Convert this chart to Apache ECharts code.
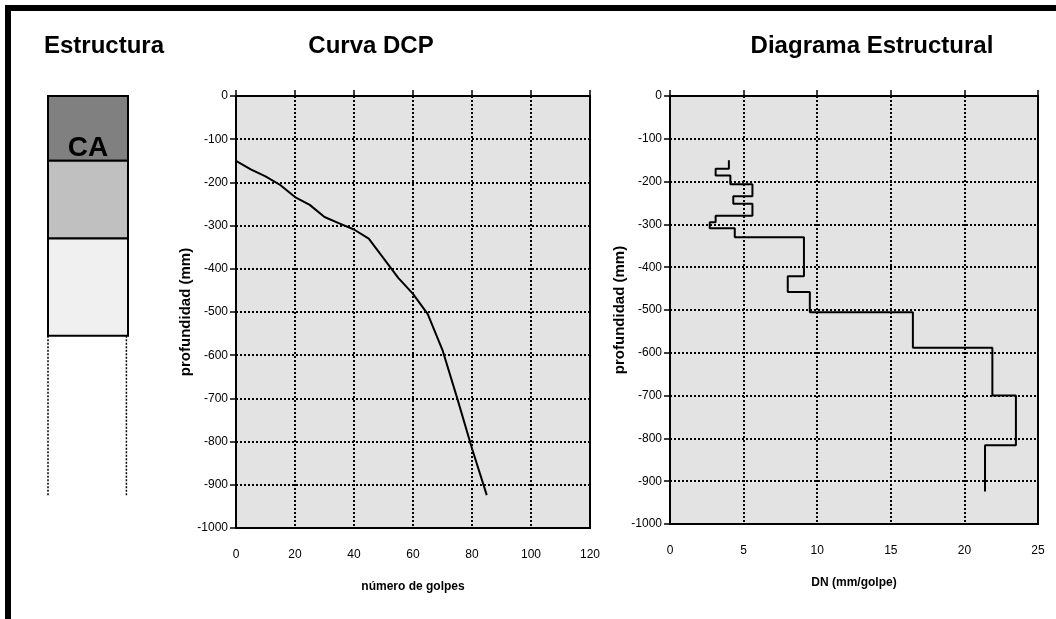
<!DOCTYPE html>
<html>
<head>
<meta charset="utf-8">
<script src="https://cdn.jsdelivr.net/npm/echarts@6/dist/echarts.min.js"></script>
<style>
  html, body { margin: 0; padding: 0; background: #fff; }
  #chart { width: 1056px; height: 619px; }
</style>
</head>
<body>
<div id="chart"></div>
<script>
// DCP test readings: cumulative blows and penetration depth (mm)
const blows = [0, 5, 10, 15, 20, 25, 30, 35, 40, 45, 55, 60, 65, 70, 75, 80, 85];
const depths = [150, 170, 186, 206, 234, 252, 280, 295, 309, 330, 421, 458, 505, 588, 700, 816, 924];
// DN (mm/golpe) for each depth interval
const dnValues = [4.0, 3.1, 4.1, 5.6, 4.3, 5.6, 3.1, 2.7, 4.4, 9.1, 8.0, 9.5, 16.5, 21.9, 23.5, 21.4];

// pavement structure layers (mm)
const layerTops = [0, 150, 330];
const layerBottoms = [150, 330, 555];
const layerNames = ['CA', '', ''];
const layerFills = ['#808080', '#c0c0c0', '#f0f0f0'];

// axis ticks
const depthTicks = [0, -100, -200, -300, -400, -500, -600, -700, -800, -900, -1000];
const blowTicks = [0, 20, 40, 60, 80, 100, 120];
const dnTicks = [0, 5, 10, 15, 20, 25];

const FONT = 'Liberation Sans, Arial, sans-serif';

const dcpData = blows.map((b, i) => [b, -depths[i]]);
const dnData = [];
dnValues.forEach((v, i) => {
  dnData.push([v, -depths[i]]);
  dnData.push([v, -depths[i + 1]]);
});
const layerData = layerTops.map((t, i) => [-t, -layerBottoms[i], i]);
const testEnd = depths[depths.length - 1];

const dotted = { color: '#000', width: 2, type: [2, 2] };
const plain = v => String(v);

function bottomAxis(gridIndex, ticks, name) {
  return {
    type: 'value', gridIndex, position: 'bottom',
    min: ticks[0], max: ticks[ticks.length - 1], interval: ticks[1] - ticks[0],
    axisLine: { show: false }, axisTick: { show: false },
    axisLabel: { color: '#000', fontSize: 12, fontFamily: FONT, margin: 21, formatter: plain },
    splitLine: { show: true, lineStyle: dotted },
    name, nameLocation: 'middle', nameGap: 53,
    nameTextStyle: { color: '#000', fontSize: 12, fontWeight: 'bold', fontFamily: FONT }
  };
}
function topAxis(gridIndex, ticks) {
  return {
    type: 'value', gridIndex, position: 'top',
    min: ticks[0], max: ticks[ticks.length - 1], interval: ticks[1] - ticks[0],
    axisLine: { show: true, onZero: false, lineStyle: { color: '#000', width: 2 } },
    axisTick: { show: true, length: 6, lineStyle: { color: '#000', width: 1.5 } },
    axisLabel: { show: false }, splitLine: { show: false }
  };
}
function depthAxis(gridIndex) {
  return {
    type: 'value', gridIndex,
    min: depthTicks[depthTicks.length - 1], max: depthTicks[0], interval: depthTicks[0] - depthTicks[1],
    axisLine: { show: true, onZero: false, lineStyle: { color: '#000', width: 2 } },
    axisTick: { show: true, length: 6, lineStyle: { color: '#000', width: 1.5 } },
    axisLabel: { color: '#000', fontSize: 12, fontFamily: FONT, margin: 8, formatter: plain },
    splitLine: { show: true, lineStyle: dotted },
    name: 'profundidad (mm)', nameLocation: 'middle', nameRotate: 90, nameGap: 35,
    nameTextStyle: { color: '#000', fontSize: 15, fontWeight: 'bold', fontFamily: FONT }
  };
}

const chart = echarts.init(document.getElementById('chart'));
chart.setOption({
  animation: false,
  backgroundColor: '#fff',
  graphic: [
    { type: 'rect', shape: { x: 8, y: 8, width: 1200, height: 800 },
      style: { fill: 'none', stroke: '#000', lineWidth: 6 }, z: 100 },
    { type: 'text', x: 104, y: 46, style: { text: 'Estructura', align: 'center', verticalAlign: 'middle',
      font: 'bold 24px ' + FONT, fill: '#000' } },
    { type: 'text', x: 371, y: 46, style: { text: 'Curva DCP', align: 'center', verticalAlign: 'middle',
      font: 'bold 24px ' + FONT, fill: '#000' } },
    { type: 'text', x: 872, y: 46, style: { text: 'Diagrama Estructural', align: 'center', verticalAlign: 'middle',
      font: 'bold 24px ' + FONT, fill: '#000' } }
  ],
  grid: [
    { left: 236, top: 96, width: 354, height: 432, show: true,
      backgroundColor: '#e3e3e3', borderColor: '#000', borderWidth: 2 },
    { left: 670, top: 96, width: 368, height: 428, show: true,
      backgroundColor: '#e3e3e3', borderColor: '#000', borderWidth: 2 },
    { left: 48, top: 96, width: 80, height: 432 }
  ],
  xAxis: [
    bottomAxis(0, blowTicks, 'número de golpes'),
    topAxis(0, blowTicks),
    bottomAxis(1, dnTicks, 'DN (mm/golpe)'),
    topAxis(1, dnTicks),
    { type: 'value', gridIndex: 2, min: 0, max: 1, show: false }
  ],
  yAxis: [
    depthAxis(0),
    depthAxis(1),
    { type: 'value', gridIndex: 2, min: -1000, max: 0, show: false }
  ],
  series: [
    {
      name: 'Curva DCP', type: 'line', xAxisIndex: 0, yAxisIndex: 0,
      data: dcpData, showSymbol: false,
      lineStyle: { color: '#000', width: 2 }
    },
    {
      name: 'DN', type: 'line', xAxisIndex: 2, yAxisIndex: 1,
      data: dnData, showSymbol: false,
      lineStyle: { color: '#000', width: 2 }
    },
    {
      name: 'Estructura', type: 'custom', xAxisIndex: 4, yAxisIndex: 2,
      data: layerData,
      renderItem: (params, api) => {
        const i = api.value(2);
        const p1 = api.coord([0, api.value(0)]);
        const p2 = api.coord([1, api.value(1)]);
        return {
          type: 'group',
          children: [
            { type: 'rect',
              shape: { x: p1[0], y: p1[1], width: p2[0] - p1[0], height: p2[1] - p1[1] },
              style: { fill: layerFills[i], stroke: '#000', lineWidth: 2 } },
            { type: 'text',
              style: { text: layerNames[i], x: (p1[0] + p2[0]) / 2, y: p2[1] - 13,
                align: 'center', verticalAlign: 'middle',
                font: 'bold 28px ' + FONT, fill: '#000' } }
          ]
        };
      }
    },
    {
      type: 'line', xAxisIndex: 4, yAxisIndex: 2, showSymbol: false,
      data: [[0, -layerBottoms[2]], [0, -testEnd]],
      lineStyle: { color: '#000', width: 1.5, type: [2, 1.5] }
    },
    {
      type: 'line', xAxisIndex: 4, yAxisIndex: 2, showSymbol: false,
      data: [[0.98, -layerBottoms[2]], [0.98, -testEnd]],
      lineStyle: { color: '#000', width: 1.5, type: [2, 1.5] }
    }
  ]
});
</script>
</body>
</html>
